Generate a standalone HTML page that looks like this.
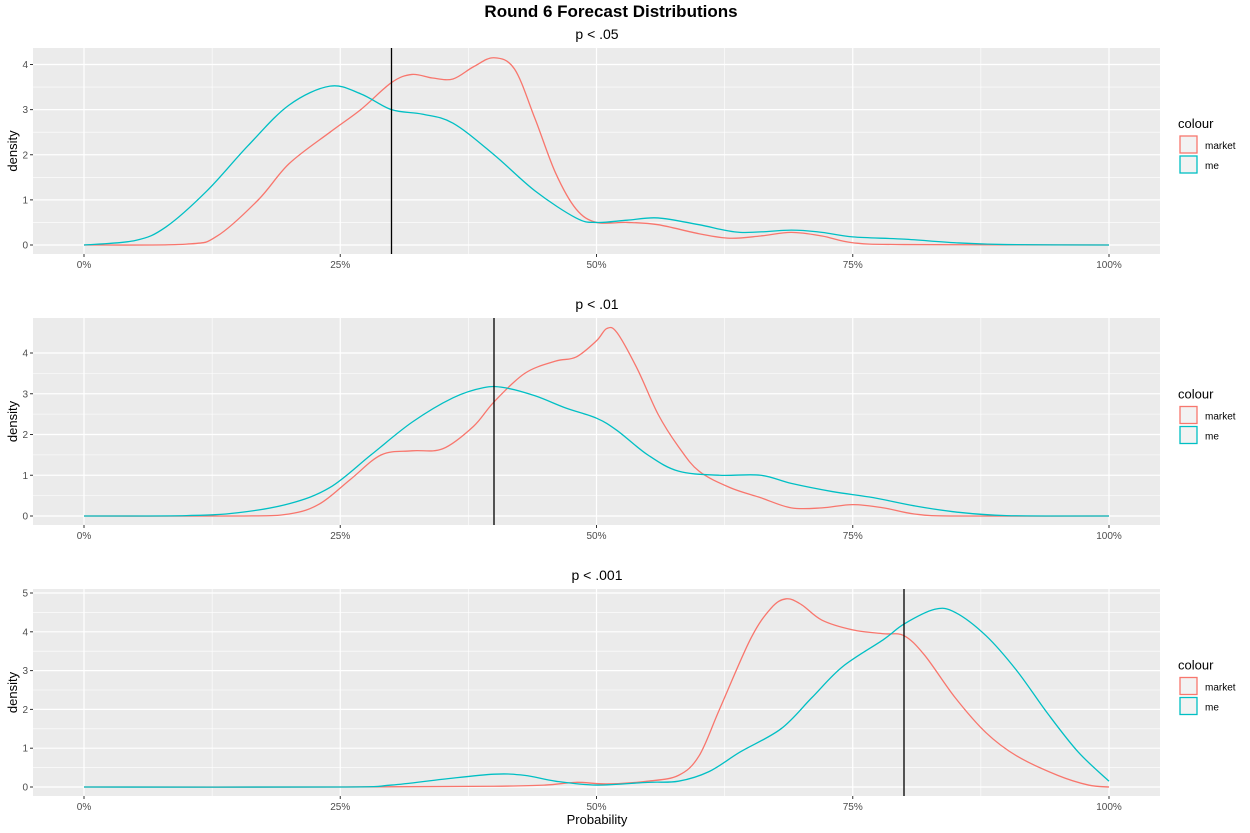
<!DOCTYPE html>
<html><head><meta charset="utf-8"><style>
body{margin:0;background:#fff;}
svg{display:block;font-family:"Liberation Sans",Arial,sans-serif;}
</style></head><body>
<svg id="c" width="1250" height="833">
<text x="611" y="17" text-anchor="middle" font-size="17" font-weight="bold">Round 6 Forecast Distributions</text>
<text x="597" y="824" text-anchor="middle" font-size="13">Probability</text>
</svg>
<script>
const panelTitles=["p < .05","p < .01","p < .001"];
const xTicks=[0,25,50,75,100];
const yMax=[4,4,5];
const vlines=[30,40,80];
const market1=[[0,0],[10,0.02],[13,0.2],[17,1.0],[20,1.8],[24,2.5],[27,3.0],[30,3.6],[32,3.78],[34,3.7],[36,3.68],[38,3.95],[40,4.15],[42,3.9],[44,2.8],[46,1.6],[48,0.8],[50,0.5],[53,0.5],[56,0.45],[60,0.25],[63,0.15],[66,0.2],[69,0.28],[72,0.2],[75,0.05],[80,0.01],[100,0]];
const me1=[[0,0],[5,0.1],[8,0.4],[12,1.2],[16,2.2],[20,3.1],[24,3.52],[27,3.35],[30,3.0],[33,2.9],[36,2.7],[40,2.0],[44,1.2],[48,0.6],[50,0.5],[53,0.55],[56,0.6],[60,0.45],[64,0.28],[69,0.33],[72,0.28],[75,0.18],[80,0.13],[85,0.05],[90,0.01],[100,0]];
const market2=[[0,0],[15,0],[20,0.05],[23,0.3],[26,0.9],[29,1.5],[32,1.6],[35,1.65],[38,2.2],[40,2.8],[43,3.5],[46,3.8],[48,3.9],[50,4.3],[51,4.6],[52,4.5],[54,3.6],[56,2.5],[58,1.7],[60,1.1],[63,0.7],[66,0.45],[69,0.2],[72,0.2],[75,0.28],[78,0.2],[81,0.05],[85,0],[100,0]];
const me2=[[0,0],[10,0.01],[15,0.08],[20,0.3],[24,0.7],[28,1.5],[32,2.3],[36,2.9],[39,3.15],[41,3.15],[44,2.95],[47,2.65],[50,2.4],[52,2.1],[55,1.5],[58,1.1],[62,1.0],[66,1.0],[69,0.8],[73,0.6],[77,0.45],[81,0.25],[85,0.1],[90,0.01],[100,0]];
const market3=[[0,0],[25,0],[40,0.02],[45,0.05],[48,0.12],[51,0.08],[55,0.15],[58,0.3],[60,0.8],[62,2.0],[65,3.8],[67,4.6],[68.5,4.85],[70,4.7],[72,4.3],[75,4.05],[78,3.95],[80,3.9],[82,3.4],[85,2.3],[88,1.4],[91,0.8],[95,0.3],[98,0.05],[100,0]];
const me3=[[0,0],[25,0],[30,0.05],[35,0.2],[40,0.33],[43,0.3],[46,0.15],[50,0.05],[55,0.12],[58,0.15],[61,0.4],[64,0.9],[68,1.5],[71,2.3],[74,3.1],[78,3.8],[80,4.2],[83,4.58],[85,4.5],[88,3.9],[91,3.0],[94,1.9],[97,0.9],[100,0.15]];
const marketSeries=[market1,market2,market3];
const meSeries=[me1,me2,me3];
const layout=[{top:48,bot:254,y0:245,yTop:64.5},{top:318,bot:525,y0:516,yTop:353},{top:589,bot:796,y0:787,yTop:593}];
const svg=document.getElementById('c');const NS='http://www.w3.org/2000/svg';
function mk(t,a,p){const e=document.createElementNS(NS,t);for(const k in a)e.setAttribute(k,a[k]);(p||svg).appendChild(e);return e;}
const X0=33,X1=1160;
function xs(v){return 84+v*(1109-84)/100;}
function path(pts,fx,fy){const P=pts.map(p=>[fx(p[0]),fy(p[1])]);let d='M'+P[0][0]+','+P[0][1];
for(let i=0;i<P.length-1;i++){const p0=P[Math.max(0,i-1)],p1=P[i],p2=P[i+1],p3=P[Math.min(P.length-1,i+2)];
d+=' C'+(p1[0]+(p2[0]-p0[0])/6)+','+(p1[1]+(p2[1]-p0[1])/6)+' '+(p2[0]-(p3[0]-p1[0])/6)+','+(p2[1]-(p3[1]-p1[1])/6)+' '+p2[0]+','+p2[1];}return d;}
layout.forEach((L,i)=>{
const g=mk('g',{});


const ys=v=>L.y0-v*(L.y0-L.yTop)/yMax[i];
const bg=mk('rect',{x:X0,y:L.top,width:X1-X0,height:L.bot-L.top,fill:'#EBEBEB'},g);


for(let v=12.5;v<100;v+=25)mk('line',{x1:xs(v),x2:xs(v),y1:L.top,y2:L.bot,stroke:'#fff','stroke-width':0.6},g);
for(let v=0.5;v<yMax[i]+0.4;v+=1)mk('line',{x1:X0,x2:X1,y1:ys(v),y2:ys(v),stroke:'#fff','stroke-width':0.6},g);
xTicks.forEach(t=>{mk('line',{x1:xs(t),x2:xs(t),y1:L.top,y2:L.bot,stroke:'#fff','stroke-width':1.2},g);
mk('line',{x1:xs(t),x2:xs(t),y1:L.bot,y2:L.bot+3,stroke:'#333'},g);
const tx=mk('text',{x:xs(t),y:L.bot+14,'text-anchor':'middle','font-size':10,fill:'#4D4D4D'},g);tx.textContent=t+'%';

});
for(let v=0;v<=yMax[i];v++){mk('line',{x1:X0,x2:X1,y1:ys(v),y2:ys(v),stroke:'#fff','stroke-width':1.2},g);
mk('line',{x1:X0-3,x2:X0,y1:ys(v),y2:ys(v),stroke:'#333'},g);
const ty=mk('text',{x:X0-5,y:ys(v)+3.5,'text-anchor':'end','font-size':10,fill:'#4D4D4D'},g);ty.textContent=v;

}
const yc=(L.top+L.bot)/2;
const yt=mk('text',{x:17,y:yc,'text-anchor':'middle','font-size':13,transform:'rotate(-90 17 '+yc+')'},g);yt.textContent='density';


const pt=mk('text',{x:597,y:L.top-9,'text-anchor':'middle','font-size':14},g);pt.textContent=panelTitles[i];


const mp=mk('path',{d:path(marketSeries[i],xs,ys),fill:'none',stroke:'#F8766D','stroke-width':1.3},g);


const ep=mk('path',{d:path(meSeries[i],xs,ys),fill:'none',stroke:'#00BFC4','stroke-width':1.3},g);


const vl=mk('line',{x1:xs(vlines[i]),x2:xs(vlines[i]),y1:L.top,y2:L.bot,stroke:'#000','stroke-width':1.3},g);


const lg=mk('g',{},g);


const ly=yc-23;
const lt=mk('text',{x:1178,y:ly,'font-size':13},lg);lt.textContent='colour';
[['market','#F8766D'],['me','#00BFC4']].forEach((s,k)=>{
mk('rect',{x:1180,y:ly+8+k*20,width:17,height:17,fill:'#F2F2F2',stroke:s[1],'stroke-width':1.3},lg);
const e=mk('text',{x:1205,y:ly+21+k*20,'font-size':10},lg);e.textContent=s[0];

});
});
</script>
</body></html>
